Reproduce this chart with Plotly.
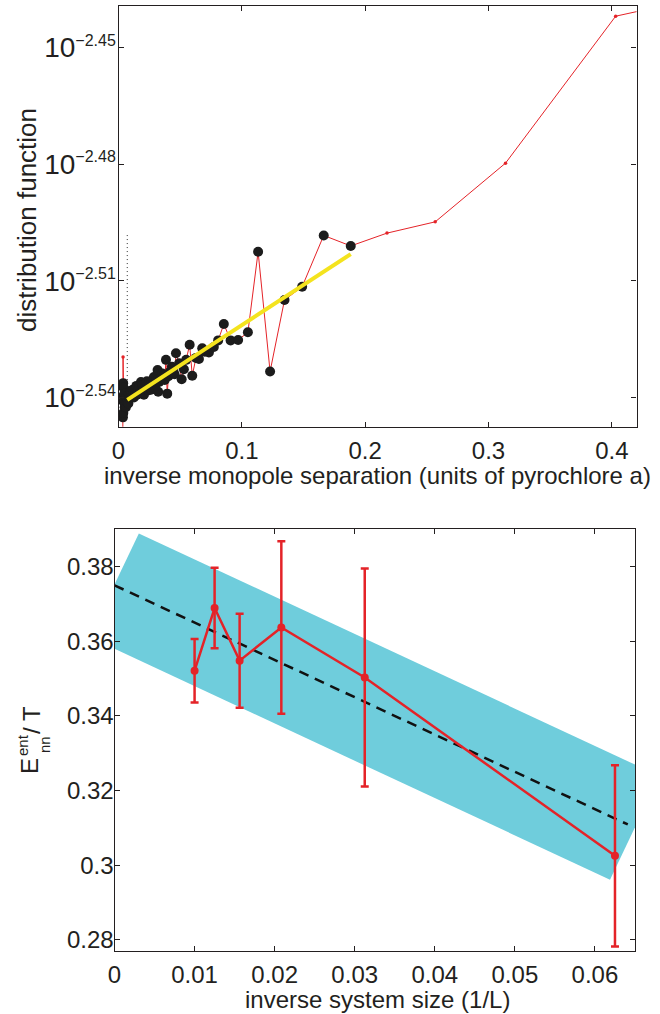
import plotly.graph_objects as go

# ---------------- data: top panel ----------------
# inverse monopole separation and log10(distribution function), in drawing order
sep_inv = [0.0035, 0.0036, 0.0037, 0.0038, 0.0039, 0.0040, 0.0041, 0.0042, 0.0045, 0.0048,
           0.0050, 0.0055, 0.0060, 0.0061, 0.0065, 0.0070, 0.0077, 0.0080, 0.0085, 0.0090,
           0.0095, 0.0101, 0.0109, 0.0115, 0.0120, 0.0125, 0.0134, 0.0140, 0.0145, 0.0150,
           0.0160, 0.0170, 0.0175, 0.0182, 0.0190, 0.0195, 0.0200, 0.0206, 0.0215, 0.0223,
           0.0230, 0.0235, 0.0240, 0.0247, 0.0255, 0.0263, 0.0270, 0.0280, 0.0287, 0.0295,
           0.0305, 0.0317, 0.0322, 0.0330, 0.0344, 0.0355, 0.0368, 0.0375, 0.0385, 0.0395,
           0.0405, 0.0417, 0.0433, 0.0445, 0.0455, 0.0466, 0.0492, 0.0512, 0.0530, 0.0549,
           0.0577, 0.0598, 0.0628, 0.0652, 0.0679, 0.0700, 0.0733, 0.0773, 0.0808, 0.0854,
           0.0909, 0.0970, 0.1049, 0.1132, 0.1229, 0.1346, 0.1489, 0.1664, 0.1883, 0.2177,
           0.2568, 0.3138, 0.4031, 0.4450]
log_dist = [-2.5495, -2.5451, -2.5296, -2.5363, -2.5440, -2.5410, -2.5375, -2.5395, -2.5405, -2.5390,
            -2.5425, -2.5415, -2.5425, -2.5406, -2.5398, -2.5412, -2.5396, -2.5415, -2.5392, -2.5400,
            -2.5383, -2.5385, -2.5398, -2.5380, -2.5390, -2.5400, -2.5378, -2.5388, -2.5370, -2.5393,
            -2.5380, -2.5372, -2.5388, -2.5360, -2.5375, -2.5368, -2.5380, -2.5393, -2.5365, -2.5370,
            -2.5358, -2.5373, -2.5382, -2.5362, -2.5370, -2.5380, -2.5357, -2.5365, -2.5347, -2.5372,
            -2.5355, -2.5329, -2.5385, -2.5360, -2.5349, -2.5338, -2.5342, -2.5355, -2.5303, -2.5390,
            -2.5345, -2.5334, -2.5321, -2.5332, -2.5340, -2.5286, -2.5312, -2.5353, -2.5327, -2.5303,
            -2.5264, -2.5344, -2.5298, -2.5301, -2.5273, -2.5282, -2.5284, -2.5270, -2.5253, -2.5211,
            -2.5253, -2.5252, -2.5232, -2.5025, -2.5333, -2.5149, -2.5115, -2.4983, -2.5010, -2.4977,
            -2.4948, -2.4797, -2.4419, -2.4390]
no_dot_idx = [0, 2]          # red-only points in the near-origin column
dot_max_sep = 0.19           # black dots only for the fitted range
fit_sep = [0.0071, 0.1883]
fit_log = [-2.5406, -2.5031]
cut_sep = [0.0071, 0.0071]
cut_log = [-2.4982, -2.5400]
top_yticks = [-2.54, -2.51, -2.48, -2.45]
top_xticks = [0, 0.1, 0.2, 0.3, 0.4]
top_xtext = ["0", "0.1", "0.2", "0.3", "0.4"]

# ---------------- data: bottom panel ----------------
inv_L = [1 / 100, 1 / 80, 1 / 64, 1 / 48, 1 / 32, 1 / 16]
E_nn = [0.3521, 0.3689, 0.3548, 0.3637, 0.3503, 0.3025]
E_err = [0.0085, 0.0108, 0.0126, 0.0231, 0.0292, 0.0243]
lin_x = [0.0, 0.0641]
lin_y = [0.375, 0.3109]
band_x = [0.00304, 0.06805, 0.06188, -0.00313, 0.00304]
band_y = [0.3889, 0.3239, 0.2961, 0.3611, 0.3889]
bot_yticks = [0.28, 0.30, 0.32, 0.34, 0.36, 0.38]
bot_ytext = ["0.28", "0.3", "0.32", "0.34", "0.36", "0.38"]
bot_xticks = [0, 0.01, 0.02, 0.03, 0.04, 0.05, 0.06]
bot_xtext = ["0", "0.01", "0.02", "0.03", "0.04", "0.05", "0.06"]

W, H = 660, 1014
RED = "#e42328"
FONT = "Liberation Sans, Arial, Helvetica, sans-serif"
TXT = "#231f20"

dist = [10 ** v for v in log_dist]
dot_x = [x for i, x in enumerate(sep_inv) if x < dot_max_sep and i not in no_dot_idx]
dot_y = [10 ** v for i, (x, v) in enumerate(zip(sep_inv, log_dist)) if x < dot_max_sep and i not in no_dot_idx]

fig = go.Figure()

# top panel
fig.add_trace(go.Scatter(x=cut_sep, y=[10 ** v for v in cut_log], mode="lines",
                         line=dict(color="#333333", width=1, dash="1px,3px"),
                         xaxis="x", yaxis="y", showlegend=False))
fig.add_trace(go.Scatter(x=sep_inv, y=dist, mode="lines+markers",
                         line=dict(color=RED, width=1), marker=dict(color=RED, size=3.5),
                         xaxis="x", yaxis="y", showlegend=False))
fig.add_trace(go.Scatter(x=dot_x, y=dot_y, mode="markers",
                         marker=dict(color="#1c1c1c", size=10),
                         xaxis="x", yaxis="y", showlegend=False))
fig.add_trace(go.Scatter(x=fit_sep, y=[10 ** v for v in fit_log], mode="lines",
                         line=dict(color="#f4e31e", width=4),
                         xaxis="x", yaxis="y", showlegend=False))

# bottom panel
fig.add_trace(go.Scatter(x=band_x, y=band_y, mode="lines", fill="toself",
                         fillcolor="#6fcddc", line=dict(width=0, color="#6fcddc"),
                         xaxis="x2", yaxis="y2", showlegend=False))
fig.add_trace(go.Scatter(x=lin_x, y=lin_y, mode="lines",
                         line=dict(color="#111111", width=2.5, dash="10px,7px"),
                         xaxis="x2", yaxis="y2", showlegend=False))
fig.add_trace(go.Scatter(x=inv_L, y=E_nn, mode="lines+markers",
                         line=dict(color=RED, width=2.5), marker=dict(color=RED, size=8),
                         error_y=dict(type="data", array=E_err, color=RED, thickness=2.5, width=4),
                         xaxis="x2", yaxis="y2", showlegend=False))

def axis_style(size, standoff=0):
    return dict(showgrid=False, zeroline=False, showline=True, linecolor="#231f20",
                linewidth=1.2, mirror="ticks", ticks="inside", ticklen=5, tickwidth=1,
                tickcolor="#231f20", automargin=False, ticklabelstandoff=standoff,
                tickfont=dict(family=FONT, size=size, color=TXT))

top_ytext = ["10<sup><span style='font-size:16px'>%s</span></sup>" % ("\u2212" + ("%.2f" % -v))
             for v in top_yticks]

fig.update_layout(
    width=W, height=H, margin=dict(l=0, r=0, t=0, b=0),
    paper_bgcolor="white", plot_bgcolor="white",
    font=dict(family=FONT, color=TXT),
    xaxis=dict(domain=[118.5 / W, 636.5 / W], anchor="y", range=[0, 0.42],
               tickvals=top_xticks, ticktext=top_xtext, **axis_style(24, 2)),
    yaxis=dict(domain=[1 - 426.7 / H, 1 - 5.7 / H], anchor="x", type="log",
               range=[-2.5475, -2.4392], tickvals=[10 ** v for v in top_yticks],
               ticktext=top_ytext, **axis_style(28, -4)),
    xaxis2=dict(domain=[114.5 / W, 635 / W], anchor="y2", range=[0, 0.065],
                tickvals=bot_xticks, ticktext=bot_xtext, **axis_style(24, 2)),
    yaxis2=dict(domain=[1 - 951 / H, 1 - 529.3 / H], anchor="x2", range=[0.277, 0.39],
                tickvals=bot_yticks, ticktext=bot_ytext, **axis_style(24, -5)),
)

def px_ann(text, x, y, size, angle=0):
    fig.add_annotation(text=text, x=x / W, y=1 - y / H, xref="paper", yref="paper",
                       xanchor="center", yanchor="middle", showarrow=False, textangle=angle,
                       font=dict(family=FONT, size=size, color=TXT))

px_ann("inverse monopole separation (units of pyrochlore a)", 377, 476, 24)
px_ann("distribution function", 27, 220, 26, -90)
px_ann("inverse system size (1/L)", 377, 999, 24)
px_ann("E", 29, 766, 24, -90)
px_ann("ent", 22, 745, 15, -90)
px_ann("nn", 44, 745, 15, -90)
px_ann("/ T", 31, 720, 24, -90)

fig.write_html("out.html", config={"displayModeBar": False},
               post_script="document.body.style.margin='0';document.body.style.overflow='hidden';")
